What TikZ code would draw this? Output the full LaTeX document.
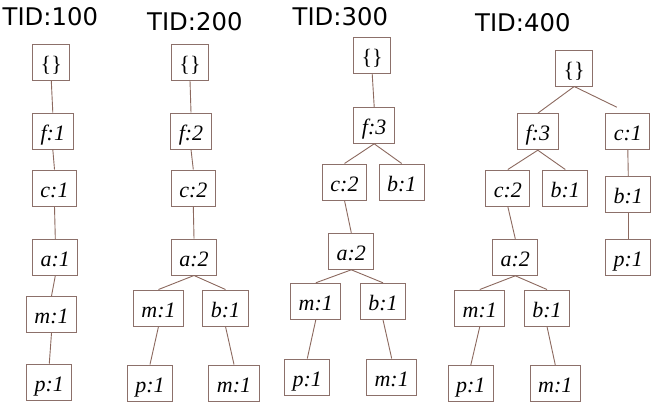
\documentclass[tikz,border=0pt]{standalone}
\usepackage{fontspec}
\setmainfont{Liberation Serif}
\newfontfamily\tidfont{DejaVu Sans}
\definecolor{boxcol}{RGB}{140,112,106}
\definecolor{linecol}{RGB}{140,105,95}
\begin{document}
\begin{tikzpicture}[x=1pt,y=-1pt,
  tn/.style={draw=boxcol, line width=1pt, font=\fontsize{22}{24}\selectfont\itshape,
    minimum height=36pt, inner xsep=8pt, inner ysep=0pt, text height=19pt, text depth=0.8pt},
  tid/.style={font=\fontsize{24.3}{28}\selectfont\tidfont, anchor=base west, inner sep=0pt},
  ed/.style={draw=linecol, line width=0.9pt}]
\useasboundingbox[fill=white] (0,0) rectangle (661,405);
% titles
\node[tid] (t1) at (2.5,25.5) {TID:100};
\node[tid] (t2) at (147,30.7) {TID:200};
\node[tid] (t3) at (292.5,25) {TID:300};
\node[tid] (t4) at (475,31.7) {TID:400};
% tree 1
\node[tn] (r1) at (51.3,62.5) {\upshape\{\}};
\node[tn] (f1) at (52.8,131) {f:1};
\node[tn] (c1) at (54.5,188) {c:1};
\node[tn] (a1) at (55.3,257.3) {a:1};
\node[tn] (m1) at (51.5,314.5) {m:1};
\node[tn] (p1) at (49.3,382) {p:1};
\draw[ed] (r1.south) -- (f1.north);
\draw[ed] (f1.south) -- (c1.north);
\draw[ed] (c1.south) -- (a1.north);
\draw[ed] (a1.south) -- (m1.north);
\draw[ed] (m1.south) -- (p1.north);
% tree 2
\node[tn] (r2) at (190,62) {\upshape\{\}};
\node[tn] (f2) at (191,131) {f:2};
\node[tn] (c2) at (193.3,188) {c:2};
\node[tn] (a2) at (194,257) {a:2};
\node[tn] (m2) at (158.5,308) {m:1};
\node[tn] (b2) at (225.5,308) {b:1};
\node[tn] (p2) at (150,383) {p:1};
\node[tn] (mm2) at (234,383) {m:1};
\draw[ed] (r2.south) -- (f2.north);
\draw[ed] (f2.south) -- (c2.north);
\draw[ed] (c2.south) -- (a2.north);
\draw[ed] (a2.south) -- (m2.north);
\draw[ed] (a2.south) -- (b2.north);
\draw[ed] (m2.south) -- (p2.north);
\draw[ed] (b2.south) -- (mm2.north);
% tree 3
\node[tn] (r3) at (372.2,55.3) {\upshape\{\}};
\node[tn] (f3) at (374.2,125.3) {f:3};
\node[tn] (c3) at (344.5,182) {c:2};
\node[tn] (b3) at (401.7,182) {b:1};
\node[tn] (a3) at (351.3,251.3) {a:2};
\node[tn] (m3) at (315.8,301.3) {m:1};
\node[tn] (bb3) at (383,301.3) {b:1};
\node[tn] (p3) at (307.3,377) {p:1};
\node[tn] (mm3) at (391.7,377) {m:1};
\draw[ed] (r3.south) -- (f3.north);
\draw[ed] (f3.south) -- (c3.north);
\draw[ed] (f3.south) -- (b3.north);
\draw[ed] (c3.south) -- (a3.north);
\draw[ed] (a3.south) -- (m3.north);
\draw[ed] (a3.south) -- (bb3.north);
\draw[ed] (m3.south) -- (p3.north);
\draw[ed] (bb3.south) -- (mm3.north);
% tree 4
\node[tn] (r4) at (574.2,68) {\upshape\{\}};
\node[tn] (f4) at (537.8,131.7) {f:3};
\node[tn] (c4r) at (627.8,131.7) {c:1};
\node[tn] (c4) at (507.8,188) {c:2};
\node[tn] (b4) at (565.3,188) {b:1};
\node[tn] (b4r) at (628.3,194.7) {b:1};
\node[tn] (p4r) at (628.3,257.3) {p:1};
\node[tn] (a4) at (515.3,257.3) {a:2};
\node[tn] (m4) at (479.8,308) {m:1};
\node[tn] (bb4) at (547,308) {b:1};
\node[tn] (p4) at (470.8,383.5) {p:1};
\node[tn] (mm4) at (555.3,383.5) {m:1};
\draw[ed] (r4.south) -- (f4.north);
\draw[ed] (r4.south) -- ([xshift=-11pt,yshift=6pt]c4r.north);
\draw[ed] (f4.south) -- (c4.north);
\draw[ed] (f4.south) -- (b4.north);
\draw[ed] (c4r.south) -- (b4r.north);
\draw[ed] (b4r.south) -- (p4r.north);
\draw[ed] (c4.south) -- (a4.north);
\draw[ed] (a4.south) -- (m4.north);
\draw[ed] (a4.south) -- (bb4.north);
\draw[ed] (m4.south) -- (p4.north);
\draw[ed] (bb4.south) -- (mm4.north);
\end{tikzpicture}
\end{document}
